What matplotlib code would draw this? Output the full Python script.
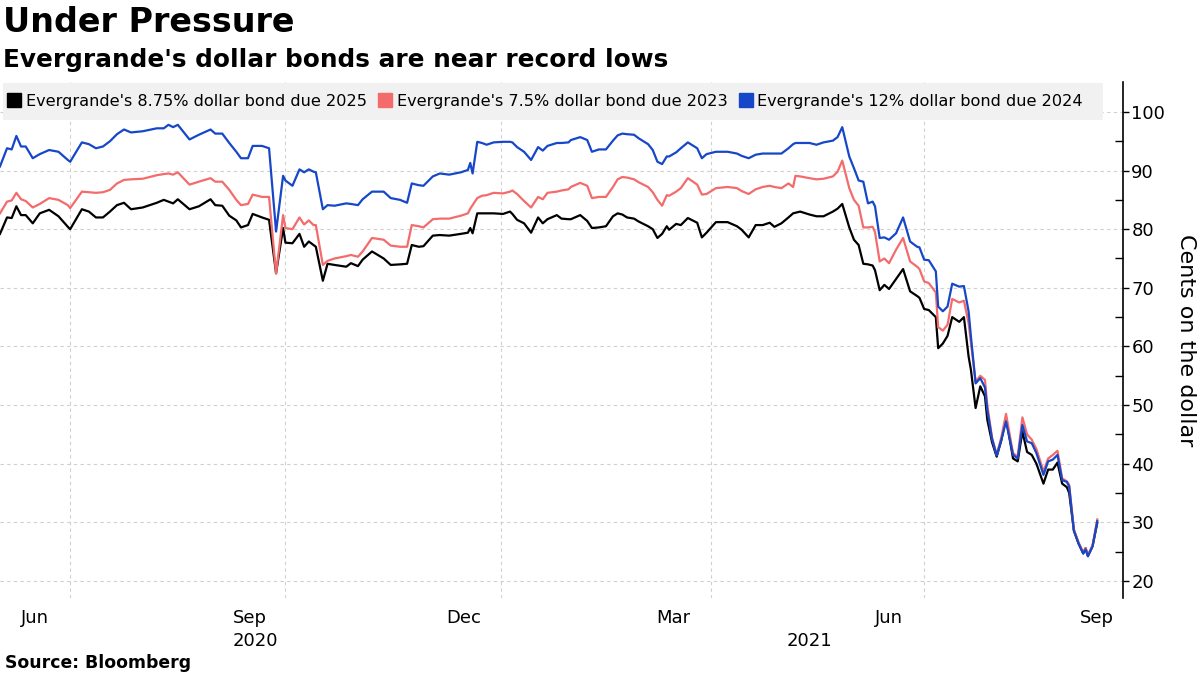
import matplotlib
matplotlib.use("Agg")
import matplotlib.pyplot as plt
import matplotlib.transforms as mtransforms
from matplotlib.lines import Line2D
from matplotlib.patches import Rectangle
import pandas as pd
import numpy as np

# ---- data ----
start_date = "2020-05-17"
day_offsets = [0, 3, 5, 7, 9, 11, 14, 17, 21, 25, 29, 30, 35, 38, 41, 44, 47, 50, 53, 56,
               61, 67, 70, 72, 74, 76, 81, 85, 90, 92, 95, 98, 101, 103, 106, 108, 112, 115, 118, 121,
               122, 125, 128, 130, 132, 134, 135, 138, 140, 143, 148, 150, 153, 155, 159, 164, 167, 171, 174, 176,
               179, 181, 185, 188, 192, 197, 200, 201, 202, 204, 206, 208, 211, 215, 218, 219, 221, 224, 227, 230,
               232, 234, 238, 240, 243, 244, 248, 251, 253, 256, 259, 262, 264, 266, 268, 271, 273, 277, 279, 281,
               283, 285, 286, 289, 291, 294, 298, 300, 302, 306, 311, 315, 317, 320, 323, 326, 329, 331, 334, 337,
               339, 340, 342, 346, 349, 352, 356, 358, 360, 363, 365, 367, 369, 371, 373, 374, 376, 378, 380, 383,
               386, 389, 392, 393, 395, 397, 400, 401, 403, 405, 407, 410, 412, 414, 415, 417, 419, 421, 422, 424,
               426, 428, 430, 433, 435, 437, 439, 441, 443, 446, 448, 450, 452, 454, 456, 457, 459, 461, 463, 464,
               465, 467, 469]

bond_2025 = [79.2, 82.0, 81.9, 83.9, 82.4, 82.4, 81.0, 82.7, 83.3, 82.2, 80.4, 80.0, 83.4, 83.0, 82.0, 82.0, 83.0, 84.1, 84.5, 83.4,
             83.7, 84.5, 85.0, 84.7, 84.4, 85.1, 83.4, 83.9, 85.1, 84.1, 84.0, 82.3, 81.5, 80.3, 80.7, 82.6, 82.0, 81.6, 72.5, 80.2,
             77.7, 77.6, 79.2, 77.0, 77.9, 77.3, 77.0, 71.2, 74.1, 73.9, 73.6, 74.2, 73.7, 74.8, 76.2, 75.0, 73.9, 74.0, 74.1, 77.3,
             77.0, 77.1, 78.9, 79.0, 78.9, 79.2, 79.4, 80.2, 79.3, 82.7, 82.7, 82.7, 82.7, 82.6, 83.0, 82.6, 81.6, 81.0, 79.4, 82.0,
             81.0, 81.7, 82.4, 81.8, 81.7, 81.7, 82.4, 81.4, 80.2, 80.3, 80.5, 82.2, 82.7, 82.5, 82.0, 81.8, 81.3, 80.5, 80.0, 78.5,
             79.2, 80.5, 79.9, 80.9, 80.7, 81.9, 81.1, 78.6, 79.4, 81.2, 81.2, 80.5, 79.9, 78.6, 80.7, 80.7, 81.1, 80.4, 81.0, 82.0,
             82.7, 82.8, 83.0, 82.5, 82.2, 82.2, 83.0, 83.5, 84.3, 80.3, 78.2, 77.3, 74.1, 74.0, 73.8, 73.0, 69.6, 70.5, 69.8, 71.5,
             73.2, 69.4, 68.6, 68.3, 66.4, 66.2, 65.0, 59.7, 60.5, 61.8, 65.0, 64.2, 65.0, 58.3, 56.0, 49.5, 53.2, 51.5, 47.5, 43.7,
             41.2, 44.0, 47.8, 40.9, 40.4, 45.5, 42.0, 41.5, 40.0, 36.6, 39.0, 39.0, 40.2, 36.6, 36.0, 35.0, 28.6, 26.4, 24.7, 25.6,
             24.3, 26.0, 29.9]

bond_2023 = [82.7, 84.7, 84.9, 86.2, 85.1, 84.8, 83.7, 84.3, 85.3, 85.0, 84.1, 83.6, 86.4, 86.3, 86.2, 86.3, 86.7, 87.8, 88.4, 88.5,
             88.6, 89.2, 89.4, 89.5, 89.3, 89.7, 87.6, 88.1, 88.7, 88.1, 88.1, 86.7, 85.0, 84.1, 84.3, 85.9, 85.5, 85.5, 72.4, 82.4,
             80.2, 80.0, 82.0, 80.8, 81.5, 80.7, 80.7, 73.9, 74.6, 75.0, 75.4, 75.6, 75.3, 76.2, 78.5, 78.2, 77.2, 77.0, 77.0, 80.7,
             80.5, 80.3, 81.7, 81.8, 81.8, 82.3, 82.7, 83.5, 84.1, 85.3, 85.7, 85.8, 86.2, 86.1, 86.4, 86.6, 86.0, 84.8, 83.7, 85.5,
             85.1, 86.2, 86.4, 86.6, 86.8, 87.2, 87.9, 87.4, 85.3, 85.5, 85.5, 87.2, 88.5, 88.9, 88.8, 88.5, 88.0, 87.2, 86.3, 85.0,
             84.0, 85.8, 85.7, 86.4, 87.0, 88.7, 87.6, 85.9, 86.0, 87.0, 87.2, 87.0, 86.5, 86.0, 86.8, 87.2, 87.4, 87.2, 87.0, 87.8,
             87.2, 89.1, 89.0, 88.7, 88.5, 88.6, 89.0, 89.8, 91.7, 87.0, 85.0, 84.0, 80.3, 80.3, 80.4, 79.5, 74.5, 75.0, 74.2, 76.5,
             78.5, 74.5, 73.6, 73.2, 71.1, 70.8, 69.2, 63.3, 62.7, 63.7, 68.1, 67.5, 67.8, 64.0, 60.6, 54.0, 55.0, 54.3, 50.0, 44.5,
             41.5, 44.5, 48.5, 41.8, 41.2, 47.9, 45.0, 44.1, 42.5, 38.7, 40.9, 41.5, 42.2, 37.5, 37.0, 36.4, 28.8, 26.6, 24.9, 25.6,
             24.4, 26.1, 30.5]

bond_2024 = [90.7, 93.8, 93.6, 95.9, 94.1, 94.1, 92.1, 92.8, 93.5, 93.2, 91.8, 91.5, 94.8, 94.5, 93.8, 94.1, 95.0, 96.2, 97.0, 96.5,
             96.7, 97.2, 97.2, 97.8, 97.4, 97.8, 95.3, 96.1, 97.0, 96.3, 96.3, 94.7, 93.2, 92.1, 92.1, 94.2, 94.2, 93.8, 79.6, 89.1,
             88.3, 87.4, 90.2, 89.7, 90.2, 89.8, 89.7, 83.4, 84.1, 84.0, 84.4, 84.3, 84.1, 85.1, 86.4, 86.4, 85.3, 85.0, 84.5, 87.8,
             87.5, 87.4, 89.0, 89.5, 89.3, 89.7, 90.1, 91.3, 89.5, 94.9, 94.7, 94.4, 94.8, 94.9, 94.9, 94.8, 94.0, 93.2, 91.8, 94.0,
             93.4, 94.2, 94.7, 94.7, 94.8, 95.2, 95.7, 95.2, 93.2, 93.6, 93.6, 95.1, 96.0, 96.3, 96.2, 96.1, 95.5, 94.5, 93.5, 91.5,
             91.1, 92.4, 92.4, 93.1, 93.8, 94.8, 93.8, 92.1, 92.8, 93.2, 93.2, 92.9, 92.5, 92.1, 92.7, 92.9, 92.9, 92.9, 92.9, 93.8,
             94.5, 94.7, 94.7, 94.7, 94.4, 94.8, 95.1, 95.7, 97.4, 92.4, 90.4, 88.3, 88.1, 84.4, 84.7, 83.9, 78.5, 78.6, 78.2, 79.3,
             82.0, 77.9, 77.0, 76.9, 74.8, 74.7, 72.8, 66.8, 66.0, 66.8, 70.7, 70.2, 70.3, 66.0, 61.7, 53.7, 54.6, 53.0, 49.2, 44.3,
             41.4, 44.1, 47.2, 41.5, 40.9, 46.6, 43.8, 43.5, 41.8, 38.1, 40.4, 40.7, 41.5, 37.2, 36.9, 36.1, 28.6, 26.4, 24.7, 25.4,
             24.2, 25.9, 30.2]

series_names = ["Evergrande's 8.75% dollar bond due 2025",
                "Evergrande's 7.5% dollar bond due 2023",
                "Evergrande's 12% dollar bond due 2024"]
series_colors = ["#000000", "#f46b6b", "#1747c9"]
y_ticks = [20, 30, 40, 50, 60, 70, 80, 90, 100]
month_labels = ["Jun", "Sep", "Dec", "Mar", "Jun", "Sep"]
month_label_dates = ["2020-06-01", "2020-09-01", "2020-12-01", "2021-03-01", "2021-06-01", "2021-08-29"]
grid_dates = ["2020-06-16", "2020-09-16", "2020-12-17", "2021-03-17", "2021-06-16"]
year_labels = ["2020", "2021"]
year_label_dates = ["2020-09-03", "2021-04-28"]

dates = pd.to_datetime(start_date) + pd.to_timedelta(day_offsets, unit="D")

W, H = 1200, 675
fig = plt.figure(figsize=(12, 6.75), dpi=100)
fig.patch.set_facecolor("white")

ax_left, ax_right, ax_top, ax_bottom = 0, 1123, 82, 598
ax = fig.add_axes([ax_left / W, 1 - ax_bottom / H, (ax_right - ax_left) / W, (ax_bottom - ax_top) / H])
ax.set_facecolor("none")

for vals, col in zip([bond_2025, bond_2023, bond_2024], series_colors):
    ax.plot(dates, vals, color=col, lw=1.6, solid_joinstyle="round", zorder=3)

x0 = pd.to_datetime(start_date)
ax.set_xlim(x0, x0 + pd.Timedelta(days=480))
ax.set_ylim(17.1, 105.1)

ax.yaxis.tick_right()
ax.yaxis.set_label_position("right")
ax.set_yticks(y_ticks)
ax.set_yticks(np.arange(25, 100, 10), minor=True)
ax.tick_params(axis="y", which="major", direction="out", length=4, width=1, labelsize=13, pad=2)
ax.tick_params(axis="y", which="minor", direction="in", length=6, width=1)
ax.set_ylabel("Cents on the dollar", rotation=-90, fontsize=16, labelpad=22)

for s in ["top", "left", "bottom"]:
    ax.spines[s].set_visible(False)
ax.spines["right"].set_linewidth(1.2)
ax.spines["right"].set_color("black")

ax.set_xticks(pd.to_datetime(month_label_dates))
ax.set_xticklabels(month_labels)
ax.set_xticks(pd.to_datetime(grid_dates), minor=True)
ax.tick_params(axis="x", which="both", length=0, labelsize=13, pad=8)

ax.grid(axis="y", which="major", color="#cfcfcf", lw=0.8, ls=(0, (3, 3)))
ax.grid(axis="x", which="minor", color="#cfcfcf", lw=0.8, ls=(0, (3, 3)))
ax.grid(axis="x", which="major", visible=False)

trans = mtransforms.blended_transform_factory(ax.transData, ax.transAxes)
for lab, d in zip(year_labels, year_label_dates):
    ax.text(pd.to_datetime(d), -0.083, lab, transform=trans, ha="center", va="center", fontsize=13)

# legend band
fig.patches.append(Rectangle((3 / W, 1 - 120 / H), 1100 / W, 37 / H, transform=fig.transFigure,
                             facecolor="#f1f1f1", edgecolor="none", zorder=0))
handles = [Line2D([], [], marker="s", ls="none", color=c, markersize=9.5) for c in series_colors]
leg = fig.legend(handles, series_names, loc="center left", bbox_to_anchor=(8 / W, 1 - 101.5 / H),
                 ncol=3, frameon=False, fontsize=11.6, handlelength=0.8, handletextpad=0.3,
                 columnspacing=0.75, borderaxespad=0, borderpad=0)

fig.text(3 / W, 1 - 22 / H, "Under Pressure", fontsize=24, fontweight="bold", ha="left", va="center")
fig.text(3 / W, 1 - 60 / H, "Evergrande's dollar bonds are near record lows", fontsize=17.8,
         fontweight="bold", ha="left", va="center")
fig.text(5 / W, 1 - 663 / H, "Source: Bloomberg", fontsize=12.4, fontweight="bold", ha="left", va="center")

fig.savefig("out.png", dpi=100, facecolor="white")
